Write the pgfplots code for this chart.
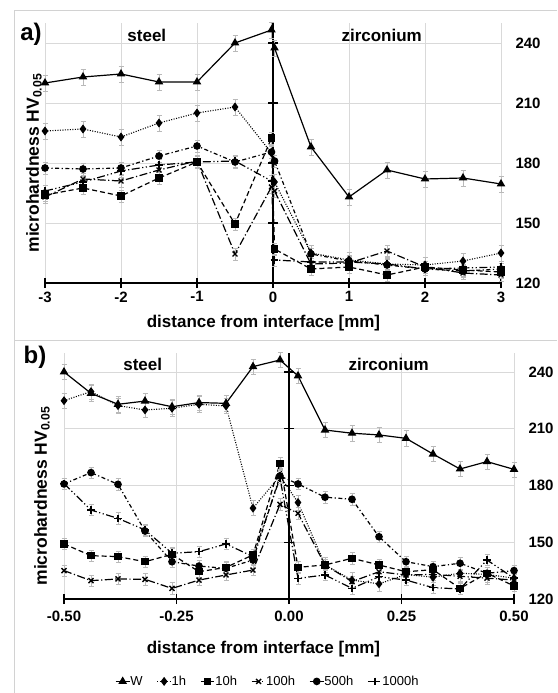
\documentclass[border=0pt]{standalone}
\usepackage{fontspec}
\setmainfont{Liberation Sans}
\usepackage{pgfplots}
\pgfplotsset{compat=1.18}
\usepackage{pgfplotstable}

\pgfplotstableread{
x     W     h1    h10   h100  h500  h1000
-3    220   196   164   163   177.5 166
-2.5  223   197   167.5 172   177   170.5
-2    224.5 193   163.5 171   177.5 176
-1.5  220.5 200   172.5 176.5 183.5 179
-1    220.5 205   180.5 181   188.5 180.5
-0.5  240   208   149.5 134.5 180.5 181
-0.02 246.5 185   192.5 168   185.5 171
0.02  237.5 170.5 137   166   181   131.5
0.5   188   135   127   129.5 134.5 130.5
1     163   131.5 128   130   131   130.5
1.5   176.5 129.5 124   136   129   129.5
2     172   129   128   128   127   127
2.5   172.5 131   126.5 125   126   127.5
3     169.5 135   125.5 124   127   128
}\dataA

\pgfplotstableread{
x     W     h1    h10   h100  h500  h1000
-0.50 240   224.8 149.1 135   180.8 181
-0.44 228.7 229.6 142.9 129.7 186.8 167
-0.38 222.9 222.2 142.4 130.6 180.6 162.6
-0.32 224.6 219.9 139.7 130.4 155.9 156.5
-0.26 221.6 220.8 143.6 125.6 139.7 144.2
-0.20 223.8 222.9 134.4 130   137.4 145
-0.14 223.4 222   136.7 132.7 136.2 149.1
-0.08 242.8 168   143.3 135.3 140.6 142.4
-0.02 246.3 185   191.7 170   185   184
0.02  237.9 171   136.7 165.3 180.8 130.9
0.08  209.3 138   138   138   173.8 132.7
0.14  207.6 130   141.5 129.2 172.7 125.6
0.20  206.7 128   138   134.4 152.9 131.8
0.26  204.9 133   134.4 132.7 139.7 130
0.32  196.6 131.5 135.5 133   137.1 126
0.38  188.7 133.6 125.6 132   138.9 125.3
0.44  192.6 133   133.6 131   133.6 140.6
0.50  188.5 131   126.9 130   135   131
}\dataB

\pgfplotsset{
  panel/.style={
    scale only axis,
    axis x line*=bottom, axis y line*=right,
    y axis line style={draw=none}, ytick style={draw=none},
    x axis line style={line width=1.4pt},
    xtick style={black, line width=1.2pt},
    major tick length=10pt, tick align=center,
    grid=major, grid style={gray!30, line width=0.7pt},
    ymin=120, ymax=250,
    ytick={120,150,180,210,240}, yticklabels={120,150,180,210,240},
    tick label style={font=\bfseries\fontsize{15}{15}\selectfont},
    yticklabel style={xshift=6pt},
    clip=false,
    legend image code/.code={\draw[mark repeat=2,mark phase=2,##1] plot coordinates {(0pt,0pt) (7pt,0pt) (14pt,0pt)};},
  },
  eb/.style={error bars/.cd, y dir=both, y fixed=#1,
    error bar style={gray!55, line width=0.6pt, solid},
    error mark options={rotate=90, mark size=2.5pt, gray!55, line width=0.6pt, solid}},
  sW/.style={black, line width=1.2pt, mark=triangle*, mark size=3.8pt, mark options={solid}},
  s1/.style={black, line width=1.1pt, dash pattern=on 1pt off 1.5pt, mark=diamond*, mark size=3.6pt, mark options={solid}},
  s10/.style={black, line width=1.2pt, dash pattern=on 5pt off 3pt, mark=square*, mark size=3pt, mark options={solid}},
  s100/.style={black, line width=1.2pt, dash pattern=on 8pt off 2.5pt on 1.2pt off 2.5pt, mark=x, mark size=3.5pt, mark options={solid, line width=1.4pt}},
  s500/.style={black, line width=1.2pt, dash pattern=on 4pt off 2.5pt on 1.2pt off 2.5pt, mark=*, mark size=3.2pt, mark options={solid}},
  s1000/.style={black, line width=1.2pt, dash pattern=on 8pt off 2.5pt on 1.2pt off 2.5pt on 1.2pt off 2.5pt, mark=+, mark size=3.8pt, mark options={solid, line width=1.4pt}},
}

\begin{document}
\begin{tikzpicture}[x=1pt,y=1pt]
\useasboundingbox (0,0) rectangle (557,693);
\draw[gray!35, line width=0.8pt] (557,683) -- (14,683) -- (14,0);
\draw[gray!35, line width=0.8pt] (14,353) -- (557,353);

% ---------- panel a ----------
\begin{axis}[panel, at={(45pt,410pt)}, anchor=south west,
  width=456pt, height=260pt,
  xmin=-3, xmax=3, xtick={-3,-2,-1,0,1,2,3},
  xticklabels={-3,-2,-1,0,1,2,3}]
\draw[black, line width=1.5pt] (axis cs:0,120) -- (axis cs:0,250);
\pgfplotsinvokeforeach{150,180,210,240}{\draw[black, line width=1.2pt] ([xshift=-5pt]axis cs:0,#1) -- ([xshift=5pt]axis cs:0,#1);}
\addplot[s1000, eb=3] table[x=x,y=h1000]{\dataA};
\addplot[s500, eb=3] table[x=x,y=h500]{\dataA};
\addplot[s100, eb=3] table[x=x,y=h100]{\dataA};
\addplot[s10, eb=3] table[x=x,y=h10]{\dataA};
\addplot[s1, eb=4] table[x=x,y=h1]{\dataA};
\addplot[sW, eb=4] table[x=x,y=W]{\dataA};
\node[font=\bfseries\fontsize{17}{17}\selectfont] at (axis cs:-1.66,244) {steel};
\node[font=\bfseries\fontsize{17}{17}\selectfont] at (axis cs:1.43,244) {zirconium};
\end{axis}

% ---------- panel b ----------
\begin{axis}[panel, at={(64pt,94pt)}, anchor=south west,
  width=450pt, height=246pt,
  xmin=-0.5, xmax=0.5, xtick={-0.5,-0.25,0,0.25,0.5},
  xticklabels={-0.50,-0.25,0.00,0.25,0.50},
  xticklabel style={yshift=-3pt},
  legend columns=6,
  legend style={draw=none, fill=none, at={(0.453,-0.335)}, anchor=center,
    font=\fontsize{13}{13}\selectfont,
    /tikz/every odd column/.append style={column sep=-2pt},
    /tikz/every even column/.append style={column sep=12pt}},
  ]
\draw[black, line width=1.5pt] (axis cs:0,120) -- (axis cs:0,250);
\pgfplotsinvokeforeach{150,180,210,240}{\draw[black, line width=1.2pt] ([xshift=-5pt]axis cs:0,#1) -- ([xshift=5pt]axis cs:0,#1);}
\addplot[sW, eb=4] table[x=x,y=W]{\dataB};
\addlegendentry{W}
\addplot[s1, eb=4] table[x=x,y=h1]{\dataB};
\addlegendentry{1h}
\addplot[s10, eb=3] table[x=x,y=h10]{\dataB};
\addlegendentry{10h}
\addplot[s100, eb=3] table[x=x,y=h100]{\dataB};
\addlegendentry{100h}
\addplot[s500, eb=3] table[x=x,y=h500]{\dataB};
\addlegendentry{500h}
\addplot[s1000, eb=3] table[x=x,y=h1000]{\dataB};
\addlegendentry{1000h}
\node[font=\bfseries\fontsize{17}{17}\selectfont] at (axis cs:-0.325,243.7) {steel};
\node[font=\bfseries\fontsize{17}{17}\selectfont] at (axis cs:0.2215,243.7) {zirconium};
\end{axis}

% labels
\node[font=\bfseries\fontsize{24}{24}\selectfont] at (31,659) {a)};
\node[font=\bfseries\fontsize{24}{24}\selectfont] at (35,336) {b)};
\node[rotate=90, font=\bfseries\fontsize{17.5}{17.5}\selectfont] at (34,530) {microhardness HV\textsubscript{0.05}};
\node[rotate=90, font=\bfseries\fontsize{17.5}{17.5}\selectfont] at (42,197) {microhardness HV\textsubscript{0.05}};
\node[font=\bfseries\fontsize{17}{17}\selectfont] at (263.5,370) {distance from interface [mm]};
\node[font=\bfseries\fontsize{17}{17}\selectfont] at (263.5,44) {distance from interface [mm]};
\end{tikzpicture}
\end{document}
